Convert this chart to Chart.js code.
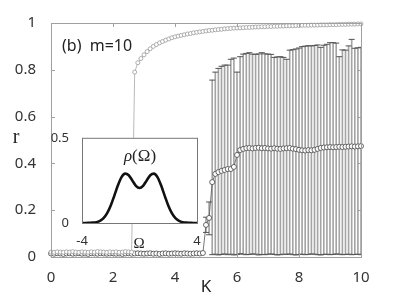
<!DOCTYPE html>
<html>
<head>
<meta charset="utf-8">
<script src="https://cdn.jsdelivr.net/npm/chart.js@4"></script>
<style>
  body { margin: 0; background: #fff; }
  #wrap { position: relative; width: 399px; height: 299px; }
  #main { position: absolute; left: 0; top: 0; }
  #inset { position: absolute; left: 40px; top: 125px; }
  .lbl { position: absolute; white-space: pre; color: #222; text-align: center; }
</style>
</head>
<body>
<div id="wrap">
  <canvas id="main" width="399" height="299"></canvas>
  <canvas id="inset" width="165" height="130"></canvas>
  <div class="lbl" style="left:62px; top:34px; font:16px 'Noto Sans'; text-align:left;">(b)  m=10</div>
  <div class="lbl" style="left:0px; top:125px; width:32px; font:20px 'Liberation Serif';">r</div>
  <div class="lbl" style="left:186px; top:274px; width:40px; font:17px 'Noto Sans';">K</div>
  <div class="lbl" style="left:100px; top:146px; width:80px; font:17px 'Liberation Serif';"><i>ρ</i>(Ω)</div>
  <div class="lbl" style="left:119px; top:235px; width:40px; font:15px 'Liberation Serif';">Ω</div>
</div>
<script>
// coupling strength K
const K = [0.0,0.1,0.2,0.3,0.4,0.5,0.6,0.7,0.8,0.9,
  1.0,1.1,1.2,1.3,1.4,1.5,1.6,1.7,1.8,1.9,
  2.0,2.1,2.2,2.3,2.4,2.5,2.6,2.7,2.8,2.9,
  3.0,3.1,3.2,3.3,3.4,3.5,3.6,3.7,3.8,3.9,
  4.0,4.1,4.2,4.3,4.4,4.5,4.6,4.7,4.8,4.9,
  5.0,5.1,5.2,5.3,5.4,5.5,5.6,5.7,5.8,5.9,
  6.0,6.1,6.2,6.3,6.4,6.5,6.6,6.7,6.8,6.9,
  7.0,7.1,7.2,7.3,7.4,7.5,7.6,7.7,7.8,7.9,
  8.0,8.1,8.2,8.3,8.4,8.5,8.6,8.7,8.8,8.9,
  9.0,9.1,9.2,9.3,9.4,9.5,9.6,9.7,9.8,9.9,10.0];

// upper branch (light gray)
const rUpper = [0.021,0.020,0.022,0.021,0.020,0.022,0.021,0.023,0.021,0.020,
  0.022,0.021,0.020,0.022,0.021,0.023,0.022,0.021,0.020,0.022,
  0.021,0.022,0.020,0.021,0.023,0.022,0.021,
  0.790,0.830,0.848,0.864,0.878,0.890,0.900,0.908,0.915,0.921,
  0.927,0.932,0.937,0.941,0.944,0.947,0.950,0.953,0.955,0.958,
  0.960,0.962,0.964,0.966,0.968,0.969,0.971,0.972,0.973,0.975,
  0.976,0.977,0.978,0.979,0.979,0.980,0.981,0.981,0.982,0.983,
  0.983,0.984,0.984,0.985,0.985,0.986,0.986,0.987,0.987,0.988,
  0.988,0.988,0.989,0.989,0.990,0.990,0.990,0.991,0.991,0.991,
  0.992,0.992,0.992,0.993,0.993,0.993,0.994,0.994,0.994,0.995,
  0.995,0.995,0.996,0.996];

// lower branch (open circles)
const rLower = [0.015,0.014,0.016,0.015,0.013,0.015,0.016,0.014,0.015,0.016,
  0.014,0.015,0.013,0.016,0.015,0.014,0.016,0.015,0.014,0.015,
  0.016,0.014,0.015,0.013,0.015,0.016,0.014,0.015,0.016,0.015,
  0.014,0.015,0.016,0.014,0.015,0.013,0.015,0.016,0.014,0.015,
  0.016,0.015,0.014,0.016,0.015,0.014,0.015,0.016,0.015,
  0.017,0.137,0.167,0.320,0.355,0.363,0.368,0.372,0.376,0.376,
  0.385,0.436,0.457,0.462,0.465,0.466,0.464,0.466,0.467,0.465,
  0.466,0.464,0.463,0.465,0.463,0.462,0.464,0.465,0.466,0.463,
  0.461,0.458,0.456,0.455,0.457,0.456,0.458,0.462,0.466,0.468,
  0.469,0.470,0.469,0.470,0.471,0.470,0.471,0.472,0.473,0.472,
  0.473,0.474];

// error bars of the lower branch
const errK = [5.0,5.1,5.2,5.3,5.4,5.5,5.6,5.7,5.8,5.9,
  6.0,6.1,6.2,6.3,6.4,6.5,6.6,6.7,6.8,6.9,
  7.0,7.1,7.2,7.3,7.4,7.5,7.6,7.7,7.8,7.9,
  8.0,8.1,8.2,8.3,8.4,8.5,8.6,8.7,8.8,8.9,
  9.0,9.1,9.2,9.3,9.4,9.5,9.6,9.7,9.8,9.9,10.0];
const errLow = [0.105,0.095,0.010,0.012,0.009,0.011,0.013,0.010,0.012,0.009,
  0.011,0.014,0.012,0.010,0.011,0.013,0.012,0.009,0.011,0.010,
  0.012,0.013,0.011,0.009,0.010,0.012,0.011,0.013,0.010,0.009,
  0.011,0.012,0.010,0.011,0.013,0.012,0.010,0.009,0.011,0.012,
  0.010,0.011,0.013,0.012,0.010,0.011,0.012,0.010,0.011,0.012,0.010];
const errHigh = [0.170,0.235,0.756,0.790,0.806,0.815,0.820,0.820,0.845,0.850,
  0.790,0.856,0.867,0.870,0.873,0.867,0.866,0.868,0.873,0.868,
  0.867,0.866,0.853,0.855,0.856,0.853,0.845,0.884,0.886,0.889,
  0.893,0.899,0.901,0.903,0.902,0.904,0.906,0.896,0.905,0.909,
  0.916,0.916,0.914,0.856,0.885,0.884,0.902,0.930,0.892,0.894,0.896];

const xTicks = [0, 2, 4, 6, 8, 10];
const yTicks = [0, 0.2, 0.4, 0.6, 0.8, 1];

// inset: frequency distribution
const omega = [-4,-3.75,-3.5,-3.25,-3,-2.75,-2.5,-2.25,-2,-1.75,-1.5,-1.25,-1,-0.75,-0.5,-0.25,
  0,0.25,0.5,0.75,1,1.25,1.5,1.75,2,2.25,2.5,2.75,3,3.25,3.5,3.75,4];
const rho = [0.000,0.000,0.001,0.002,0.005,0.013,0.029,0.058,0.103,0.161,0.221,0.269,0.290,0.280,0.250,0.218,
  0.205,0.218,0.250,0.280,0.290,0.269,0.221,0.161,0.103,0.058,0.029,0.013,0.005,0.002,0.001,0.000,0.000];
const insetXTicks = [-4, 4];
const insetYTicks = [0, 0.5];

const font = { family: "'Noto Sans', sans-serif", size: 15 };
const plain = v => String(Number(v.toFixed(2)));

// frame with inward ticks
const framePlugin = {
  id: 'frame',
  afterDatasetsDraw(chart) {
    const { ctx, chartArea: a, scales } = chart;
    ctx.save();
    ctx.strokeStyle = '#a0a0a0';
    ctx.lineWidth = 1;
    ctx.strokeRect(a.left + 0.5, a.top + 0.5, a.right - a.left, a.bottom - a.top);
    ctx.beginPath();
    xTicks.forEach(v => {
      const x = Math.round(scales.x.getPixelForValue(v)) + 0.5;
      ctx.moveTo(x, a.top); ctx.lineTo(x, a.top + 4);
      ctx.moveTo(x, a.bottom); ctx.lineTo(x, a.bottom - 4);
    });
    yTicks.forEach(v => {
      const y = Math.round(scales.y.getPixelForValue(v)) + 0.5;
      ctx.moveTo(a.left, y); ctx.lineTo(a.left + 4, y);
      ctx.moveTo(a.right, y); ctx.lineTo(a.right - 4, y);
    });
    ctx.stroke();
    ctx.restore();
  }
};

new Chart(document.getElementById('main'), {
  type: 'line',
  data: {
    datasets: [
      {
        label: 'upper',
        data: K.map((k, i) => ({ x: k, y: rUpper[i] })),
        borderColor: '#a8a8a8',
        borderWidth: 0.8,
        pointRadius: 2,
        pointBackgroundColor: '#fff',
        pointBorderColor: '#9a9a9a',
        pointBorderWidth: 0.8,
        clip: false,
        order: 0
      },
      {
        label: 'lower',
        data: K.map((k, i) => ({ x: k, y: rLower[i] })),
        borderColor: '#555',
        borderWidth: 0.8,
        pointRadius: 2.5,
        pointBackgroundColor: '#fff',
        pointBorderColor: '#444',
        pointBorderWidth: 0.8,
        clip: false,
        order: 1
      },
      {
        label: 'caps',
        data: errK.map((k, i) => ({ x: k, y: errHigh[i] })).concat(errK.map((k, i) => ({ x: k, y: errLow[i] }))),
        showLine: false,
        pointStyle: 'line',
        pointRadius: 3,
        borderColor: '#555',
        borderWidth: 1,
        order: 2
      },
      {
        type: 'bar',
        label: 'err',
        data: errK.map((k, i) => ({ x: k, y: [errLow[i], errHigh[i]] })),
        backgroundColor: '#a4a4a4',
        barThickness: 1,
        order: 3
      }
    ]
  },
  options: {
    responsive: false,
    animation: false,
    events: [],
    layout: { padding: { left: 0, top: 23, right: 38, bottom: 0 } },
    plugins: { legend: { display: false }, tooltip: { enabled: false } },
    scales: {
      x: {
        type: 'linear', min: 0, max: 10, offset: false,
        grid: { display: false },
        border: { display: false },
        ticks: { stepSize: 2, padding: 4, color: '#333', font: font, maxRotation: 0, callback: plain },
        afterFit(s) { s.height = 42; }
      },
      y: {
        type: 'linear', min: 0, max: 1,
        grid: { display: false },
        border: { display: false },
        ticks: { stepSize: 0.2, padding: 7, color: '#333', font: font, callback: plain },
        afterFit(s) { s.width = 51; }
      }
    }
  },
  plugins: [framePlugin]
});

const insetPlugin = {
  id: 'insetBox',
  beforeDatasetsDraw(chart) {
    const { ctx, chartArea: a } = chart;
    ctx.save();
    ctx.fillStyle = '#fff';
    ctx.fillRect(a.left, a.top, a.right - a.left, a.bottom - a.top);
    ctx.restore();
  },
  afterDatasetsDraw(chart) {
    const { ctx, chartArea: a } = chart;
    ctx.save();
    ctx.strokeStyle = '#777';
    ctx.lineWidth = 1;
    ctx.strokeRect(a.left + 0.5, a.top + 0.5, a.right - a.left, a.bottom - a.top);
    ctx.restore();
  }
};

const insetFont = { family: "'Noto Sans', sans-serif", size: 13 };

new Chart(document.getElementById('inset'), {
  type: 'line',
  data: {
    datasets: [{
      data: omega.map((w, i) => ({ x: w, y: rho[i] })),
      borderColor: '#111',
      borderWidth: 2.6,
      pointRadius: 0,
      cubicInterpolationMode: 'monotone'
    }]
  },
  options: {
    responsive: false,
    animation: false,
    events: [],
    layout: { padding: { left: 0, top: 8, right: 8, bottom: 0 } },
    plugins: { legend: { display: false }, tooltip: { enabled: false } },
    scales: {
      x: {
        type: 'linear', min: -4, max: 4,
        grid: { display: false },
        border: { display: false },
        afterBuildTicks(s) { s.ticks = insetXTicks.map(v => ({ value: v })); },
        ticks: { padding: 2, color: '#333', font: insetFont, maxRotation: 0, autoSkip: false, callback: plain },
        afterFit(s) { s.height = 32; }
      },
      y: {
        type: 'linear', min: 0, max: 0.5,
        grid: { display: false },
        border: { display: false },
        afterBuildTicks(s) { s.ticks = insetYTicks.map(v => ({ value: v })); },
        ticks: { padding: 5, color: '#333', font: insetFont, autoSkip: false, callback: plain },
        afterFit(s) { s.width = 42; }
      }
    }
  },
  plugins: [insetPlugin]
});
</script>
</body>
</html>
